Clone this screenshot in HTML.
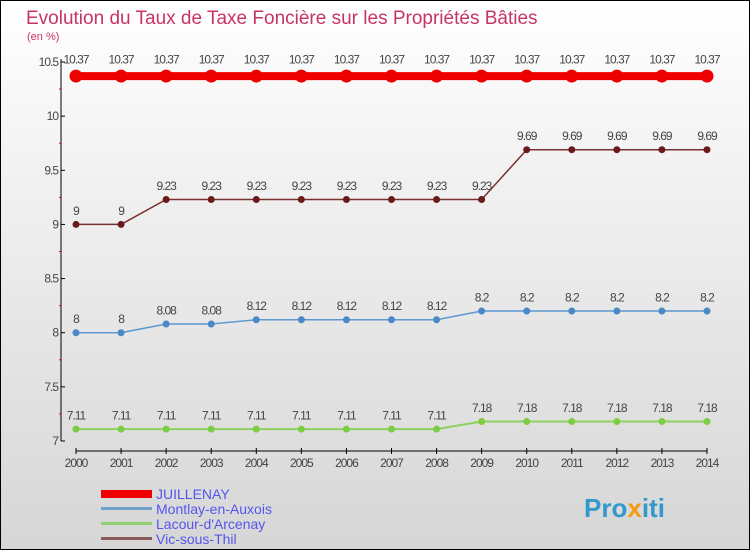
<!DOCTYPE html>
<html><head><meta charset="utf-8"><style>
body{margin:0}
#c{width:748px;height:548px;border:1px solid #000;background:linear-gradient(#ffffff,#f2f2f2 30%,#d6d6d6);position:relative;overflow:hidden;font-family:"Liberation Sans",sans-serif}
text{font-family:"Liberation Sans",sans-serif}
</style></head><body>
<div id="c">
<svg id="s" width="748" height="548">
<text x="25" y="23" font-size="19" fill="#c8336a">Evolution du Taux de Taxe Foncière sur les Propriétés Bâties</text>
<text x="26" y="39" font-size="11" fill="#c8336a">(en %)</text>
<g id="g"></g>
<g>
<rect x="100" y="489" width="51" height="8" fill="#e00"/>
<text x="155" y="498" font-size="14" fill="#5555ee">JUILLENAY</text>
<rect x="100" y="506" width="51" height="3" fill="#6fa0c8"/>
<text x="155" y="513" font-size="14" fill="#5555ee">Montlay-en-Auxois</text>
<rect x="100" y="521" width="51" height="3" fill="#90d070"/>
<text x="155" y="528" font-size="14" fill="#5555ee">Lacour-d'Arcenay</text>
<rect x="100" y="536" width="51" height="3" fill="#8a5a5a"/>
<text x="155" y="543" font-size="14" fill="#5555ee">Vic-sous-Thil</text>
</g>
<text x="583" y="516" font-size="26" font-weight="bold" fill="#3399cc">Pro<tspan fill="#f39c12">x</tspan>iti</text>
</svg>
</div>
<script>
const years=["2000","2001","2002","2003","2004","2005","2006","2007","2008","2009","2010","2011","2012","2013","2014"];
const juillenay=[10.37,10.37,10.37,10.37,10.37,10.37,10.37,10.37,10.37,10.37,10.37,10.37,10.37,10.37,10.37];
const montlay=[8,8,8.08,8.08,8.12,8.12,8.12,8.12,8.12,8.2,8.2,8.2,8.2,8.2,8.2];
const lacour=[7.11,7.11,7.11,7.11,7.11,7.11,7.11,7.11,7.11,7.18,7.18,7.18,7.18,7.18,7.18];
const vic=[9,9,9.23,9.23,9.23,9.23,9.23,9.23,9.23,9.23,9.69,9.69,9.69,9.69,9.69];
const yTicks=[7,7.5,8,8.5,9,9.5,10,10.5];
const NS="http://www.w3.org/2000/svg";
const g=document.getElementById('g');
function X(i){return 75+i*(706-75)/(years.length-1);}
function Y(v){return 440-(v-7)*(440-61)/3.5;}
function mk(t,a){const e=document.createElementNS(NS,t);for(const k in a)e.setAttribute(k,a[k]);g.appendChild(e);return e;}
let e=mk('line',{x1:60,y1:58,x2:60,y2:440,stroke:'#000'});


e=mk('line',{x1:75,y1:450,x2:706,y2:450,stroke:'#000'});


yTicks.forEach((v,i)=>{
 mk('line',{x1:60,y1:Y(v),x2:64,y2:Y(v),stroke:'#000'});
 if(i<yTicks.length-1) mk('line',{x1:58,y1:Y(v+0.25),x2:60,y2:Y(v+0.25),stroke:'#e00'});
 const t=mk('text',{x:57,y:Y(v)+4,'font-size':12,fill:'#444','text-anchor':'end','letter-spacing':'-1'});
 t.textContent=String(v);
 
 
});
years.forEach((y,i)=>{
 mk('line',{x1:X(i),y1:447,x2:X(i),y2:453,stroke:'#000'});
 const t=mk('text',{x:X(i),y:466,'font-size':12,fill:'#444','text-anchor':'middle','letter-spacing':'-1'});
 t.textContent=y;
 
 
});
function series(arr,color,lw,r,dot,name){
 const p=mk('polyline',{points:arr.map((v,i)=>X(i)+','+Y(v)).join(' '),fill:'none',stroke:color,'stroke-width':lw});
 
 
 arr.forEach((v,i)=>{
  const c=mk('circle',{cx:X(i),cy:Y(v),r:r,fill:dot});
  
  
  const t=mk('text',{x:X(i),y:Y(v)-(r+6),'font-size':12,fill:'#444','text-anchor':'middle','letter-spacing':'-1'});
  t.textContent=String(v);
  
  
 });
}
series(vic,'#7a3030',1.5,3.5,'#6a1a1a','vic');
series(montlay,'#5a9ad0',1.5,3.5,'#4a88c8','montlay');
series(lacour,'#90d060',2,3.5,'#7ccc44','lacour');
series(juillenay,'#ee0000',8,6.5,'#ee0000','juillenay');
</script>
</body></html>
